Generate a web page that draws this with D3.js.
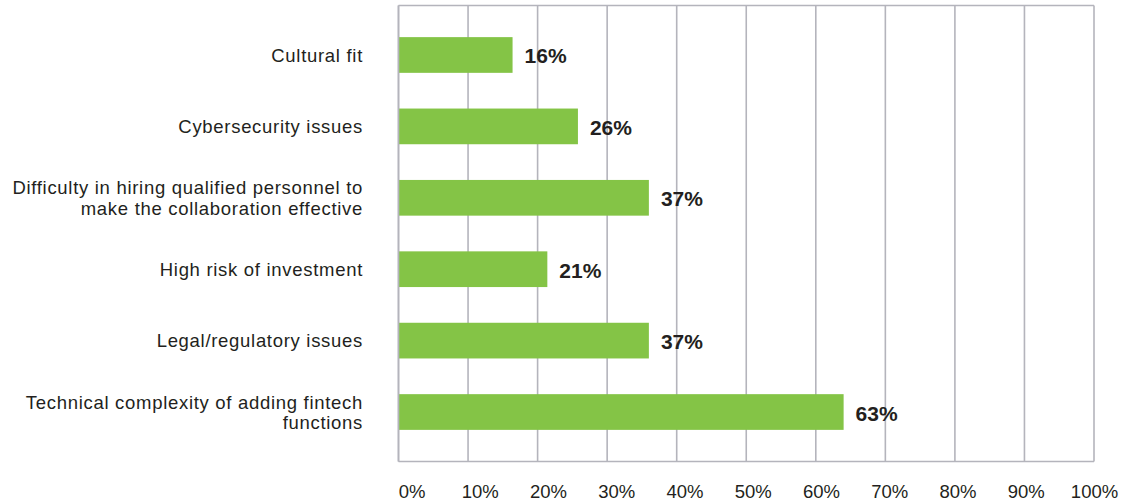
<!DOCTYPE html>
<html><head><meta charset="utf-8">
<script src="https://cdn.jsdelivr.net/npm/d3@7"></script>
<style>
html,body{margin:0;padding:0;background:#fff;}
text{font-family:"Liberation Sans",Arial,sans-serif;fill:#231f20;}
</style></head>
<body><svg id="c" width="1121" height="502"></svg>
<script>
const categories = [
  ["Cultural fit"],
  ["Cybersecurity issues"],
  ["Difficulty in hiring qualified personnel to", "make the collaboration effective"],
  ["High risk of investment"],
  ["Legal/regulatory issues"],
  ["Technical complexity of adding fintech", "functions"]
];
const barValues = [16.4, 25.8, 36.0, 21.4, 36.0, 64.0];
const valueLabels = ["16%", "26%", "37%", "21%", "37%", "63%"];
const tickValues = [0, 10, 20, 30, 40, 50, 60, 70, 80, 90, 100];

(function() {
const svg = d3.select("#c");
const pL = 398.5, pR = 1094, pT = 5.5, pB = 461.5;
const x = d3.scaleLinear().domain([0, 100]).range([pL, pR]);
const xLab = d3.scaleLinear().domain([0, 100]).range([411.5, 1094]);
const y = d3.scaleBand().domain(d3.range(categories.length)).range([pT, pB])
  .paddingInner(0.5).paddingOuter(0.443);

const grid = "#b4b4bc";
svg.append("g").selectAll("line").data(tickValues).join("line")
  .attr("x1", d => x(d)).attr("x2", d => x(d)).attr("y1", pT).attr("y2", pB)
  .attr("stroke", grid).attr("stroke-width", 1.6);
svg.append("line").attr("x1", pL).attr("x2", pR).attr("y1", pT).attr("y2", pT)
  .attr("stroke", grid).attr("stroke-width", 1.6);
svg.append("line").attr("x1", pL).attr("x2", pR).attr("y1", pB).attr("y2", pB)
  .attr("stroke", grid).attr("stroke-width", 1.6);

svg.append("g").selectAll("rect").data(barValues).join("rect")
  .attr("x", x(0)).attr("y", (d, i) => y(i))
  .attr("width", d => x(d) - x(0)).attr("height", y.bandwidth())
  .attr("fill", "#84c446");

svg.append("line").attr("x1", pL).attr("x2", pL).attr("y1", pT).attr("y2", pB)
  .attr("stroke", grid).attr("stroke-width", 1.6);

svg.append("g").selectAll("text").data(barValues).join("text")
  .attr("x", d => x(d) + 12).attr("y", (d, i) => y(i) + y.bandwidth() / 2 + 8.5)
  .attr("font-size", 21).attr("font-weight", "bold")
  .text((d, i) => valueLabels[i]);

const cat = svg.append("g").selectAll("text").data(categories).join("text")
  .attr("text-anchor", "end").attr("font-size", 18.5).attr("letter-spacing", 0.7)
  .attr("y", (d, i) => y(i) + y.bandwidth() / 2 + 6.8);
cat.each(function(lines) {
  const t = d3.select(this);
  const lh = 20.5;
  const y0 = -(lines.length - 1) * lh / 2;
  lines.forEach((l, k) => {
    t.append("tspan").attr("x", 363).attr("dy", k === 0 ? y0 : lh).text(l);
  });
});

const ax = svg.append("g").attr("transform", `translate(0,${pB})`)
  .call(d3.axisBottom(xLab).tickValues(tickValues).tickFormat(d => d + "%").tickSize(0).tickPadding(23));
ax.select(".domain").remove();
ax.selectAll("text").attr("font-size", 18.5).attr("font-family", "Liberation Sans, Arial, sans-serif").attr("fill", "#231f20");
})();
</script>
</body></html>
